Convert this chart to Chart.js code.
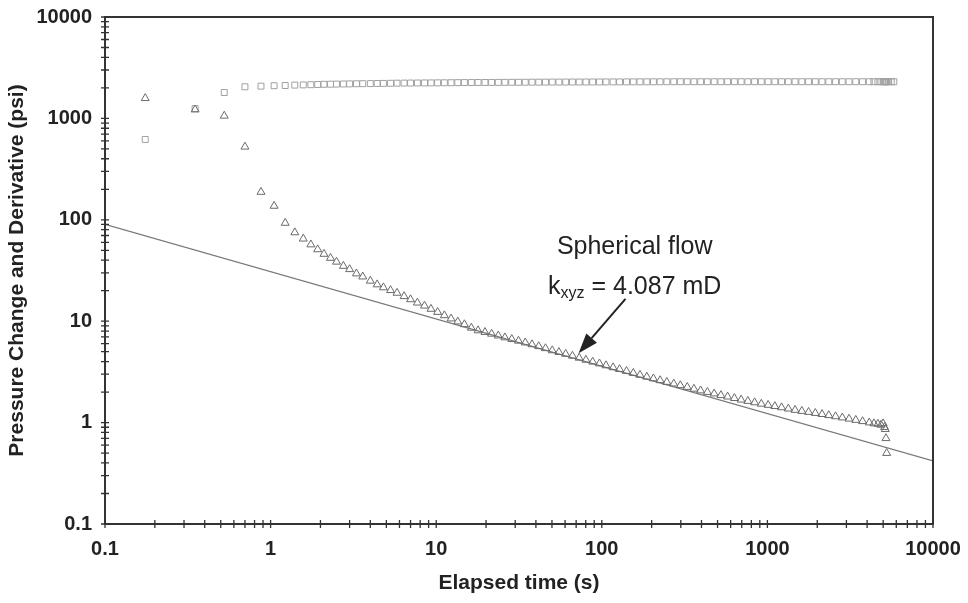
<!DOCTYPE html>
<html>
<head>
<meta charset="utf-8">
<title>Pressure change and derivative</title>
<script src="https://cdn.jsdelivr.net/npm/chart.js@4.4.1/dist/chart.umd.min.js"></script>
<style>
  html, body { margin: 0; padding: 0; background: #fff; }
  canvas { display: block; }
</style>
</head>
<body>
<canvas id="chart" width="968" height="603"></canvas>
<script>
// elapsed time (s), shared by both series
const elapsed = [
  0.175, 0.35, 0.525, 0.7, 0.875, 1.05, 1.225, 1.4, 1.575, 1.75,
  1.925, 2.1, 2.3, 2.5, 2.75, 3.0, 3.3, 3.6, 4.0, 4.4,
  4.8, 5.3, 5.8, 6.4, 7.0, 7.7, 8.5, 9.3, 10.2, 11.2,
  12.3, 13.5, 14.8, 16.3, 17.9, 19.7, 21.6, 23.7, 26, 28.6,
  31.4, 34.5, 37.9, 41.6, 45.7, 50.2, 55.1, 60.5, 66.5, 73,
  80.2, 88.1, 96.8, 106, 117, 128, 141, 155, 170, 187,
  205, 225, 247, 272, 298, 328, 360, 395, 434, 477,
  524, 575, 632, 694, 762, 837, 919, 1010, 1109, 1218,
  1338, 1469, 1614, 1772, 1947, 2138, 2348, 2579, 2833, 3111,
  3417, 3753, 4122, 4400, 4650, 4850, 5000, 5100, 5150, 5200,
  5250, 5400, 5600, 5800
];

// pressure change (psi) - squares
const pressureChange = [
  620, 1250, 1800, 2050, 2080, 2100, 2110, 2130, 2140, 2150,
  2160, 2170, 2175, 2180, 2185, 2190, 2195, 2200, 2205, 2210,
  2215, 2220, 2225, 2230, 2232, 2235, 2238, 2240, 2243, 2246,
  2249, 2252, 2255, 2258, 2260, 2262, 2264, 2266, 2268, 2270,
  2272, 2274, 2276, 2278, 2280, 2281, 2282, 2283, 2284, 2285,
  2286, 2287, 2288, 2289, 2290, 2291, 2292, 2293, 2294, 2295,
  2296, 2297, 2298, 2299, 2300, 2300, 2300, 2300, 2300, 2300,
  2300, 2300, 2300, 2300, 2300, 2300, 2300, 2300, 2300, 2300,
  2300, 2300, 2300, 2300, 2300, 2300, 2300, 2300, 2300, 2300,
  2300, 2300, 2300, 2300, 2300, 2300, 2300, 2300, 2300, 2300,
  2300, 2300, 2300, 2300
];

// pressure derivative (psi) - triangles
const derivative = [
  1580, 1220, 1060, 525, 188, 137, 93, 75, 65, 57,
  51, 46, 42, 38.5, 35, 32.5, 29.5, 27.5, 25, 23,
  21.5, 20.2, 19, 17.6, 16.4, 15.2, 14.2, 13.2, 12.3, 11.4,
  10.6, 9.9, 9.3, 8.6, 8.1, 7.8, 7.5, 7.2, 6.9, 6.65,
  6.4, 6.15, 5.9, 5.65, 5.4, 5.15, 4.95, 4.75, 4.55, 4.35,
  4.15, 3.98, 3.82, 3.66, 3.5, 3.36, 3.22, 3.08, 2.95, 2.83,
  2.72, 2.61, 2.51, 2.42, 2.33, 2.24, 2.15, 2.07, 2.0, 1.93,
  1.86, 1.8, 1.74, 1.68, 1.63, 1.58, 1.53, 1.49, 1.45, 1.41,
  1.37, 1.33, 1.3, 1.27, 1.24, 1.21, 1.18, 1.15, 1.12, 1.09,
  1.06, 1.03, 1.0, 0.98, 0.97, 0.95, 0.98, 0.9, 0.86, 0.7,
  0.5, null, null, null
];

// spherical flow fit line
const fitTime = [0.1, 10000];
const fitValue = [90, 0.42];

const xTickValues = [0.1, 1, 10, 100, 1000, 10000];
const xTickLabels = ['0.1', '1', '10', '100', '1000', '10000'];
const yTickValues = [0.1, 1, 10, 100, 1000, 10000];
const yTickLabels = ['0.1', '1', '10', '100', '1000', '10000'];

// annotation anchor points (data space)
const noteAt = { x: 158, line1: 53.7, line2: 21.8 };
const arrowTail = { x: 139, y: 16.6 };
const arrowTip = { x: 72.4, y: 4.82 };

const toPoints = (xs, ys) => xs.map((t, i) => ({ x: t, y: ys[i] }));

const frameAndNote = {
  id: 'frameAndNote',
  afterDraw(chart) {
    const { ctx, chartArea: a, scales: { x, y } } = chart;
    ctx.save();

    // plot frame
    ctx.strokeStyle = '#333';
    ctx.lineWidth = 2;
    ctx.strokeRect(a.left, a.top, a.right - a.left, a.bottom - a.top);

    // log tick marks crossing the axes
    ctx.lineWidth = 1.3;
    ctx.beginPath();
    for (let e = -1; e < 4; e++) {
      for (let m = 1; m <= 10; m++) {
        const v = m * Math.pow(10, e);
        const px = x.getPixelForValue(v);
        ctx.moveTo(px, a.bottom - 4);
        ctx.lineTo(px, a.bottom + 4);
        const py = y.getPixelForValue(v);
        ctx.moveTo(a.left - 4, py);
        ctx.lineTo(a.left + 4, py);
      }
    }
    ctx.stroke();

    // annotation text
    const cx = x.getPixelForValue(noteAt.x);
    const y1 = y.getPixelForValue(noteAt.line1);
    const y2 = y.getPixelForValue(noteAt.line2);
    ctx.fillStyle = '#222';
    ctx.textBaseline = 'middle';
    ctx.textAlign = 'center';
    ctx.font = '25px "Liberation Sans", Arial, sans-serif';
    ctx.fillText('Spherical flow', cx, y1);

    const big = '25px "Liberation Sans", Arial, sans-serif';
    const small = '16px "Liberation Sans", Arial, sans-serif';
    ctx.textAlign = 'left';
    ctx.font = big;
    const wK = ctx.measureText('k').width;
    const wRest = ctx.measureText(' = 4.087 mD').width;
    ctx.font = small;
    const wSub = ctx.measureText('xyz').width;
    let sx = cx - (wK + wSub + wRest) / 2;
    ctx.font = big;
    ctx.fillText('k', sx, y2);
    sx += wK;
    ctx.font = small;
    ctx.fillText('xyz', sx, y2 + 7);
    sx += wSub;
    ctx.font = big;
    ctx.fillText(' = 4.087 mD', sx, y2);

    // arrow
    const tx = x.getPixelForValue(arrowTail.x), ty = y.getPixelForValue(arrowTail.y);
    const hx = x.getPixelForValue(arrowTip.x), hy = y.getPixelForValue(arrowTip.y);
    const ang = Math.atan2(hy - ty, hx - tx);
    const headLen = 20, headHalf = 7;
    const bx = hx - headLen * Math.cos(ang), by = hy - headLen * Math.sin(ang);
    ctx.strokeStyle = '#222';
    ctx.lineWidth = 2;
    ctx.beginPath();
    ctx.moveTo(tx, ty);
    ctx.lineTo(bx, by);
    ctx.stroke();
    ctx.beginPath();
    ctx.moveTo(hx, hy);
    ctx.lineTo(bx + headHalf * Math.sin(ang), by - headHalf * Math.cos(ang));
    ctx.lineTo(bx - headHalf * Math.sin(ang), by + headHalf * Math.cos(ang));
    ctx.closePath();
    ctx.fill();

    ctx.restore();
  }
};

const tickFont = { family: '"Liberation Sans", Arial, sans-serif', size: 20, weight: 'bold' };
const titleFont = { family: '"Liberation Sans", Arial, sans-serif', size: 21, weight: 'bold' };

new Chart(document.getElementById('chart').getContext('2d'), {
  type: 'scatter',
  data: {
    datasets: [
      {
        label: 'Spherical flow',
        type: 'line',
        data: toPoints(fitTime, fitValue),
        borderColor: '#7a7a7a',
        borderWidth: 1.3,
        pointRadius: 0,
        fill: false,
        order: 3
      },
      {
        label: 'Pressure change',
        data: toPoints(elapsed, pressureChange),
        pointStyle: 'rect',
        pointRadius: 4.2,
        borderColor: '#a0a0a0',
        backgroundColor: 'rgba(0,0,0,0)',
        borderWidth: 1,
        order: 2
      },
      {
        label: 'Derivative',
        data: toPoints(elapsed, derivative),
        pointStyle: 'triangle',
        pointRadius: 4.6,
        borderColor: '#6a6a6a',
        backgroundColor: 'rgba(0,0,0,0)',
        borderWidth: 1,
        order: 1
      }
    ]
  },
  options: {
    responsive: false,
    animation: false,
    layout: { padding: { left: 0, right: 35, top: 10, bottom: 0 } },
    plugins: {
      legend: { display: false },
      tooltip: { enabled: false }
    },
    scales: {
      x: {
        type: 'logarithmic',
        position: 'bottom',
        min: 0.1,
        max: 10000,
        grid: { display: false },
        border: { display: false },
        afterBuildTicks: (s) => { s.ticks = xTickValues.map((v) => ({ value: v })); },
        afterFit: (s) => { s.height = 79; },
        ticks: {
          autoSkip: false,
          maxRotation: 0,
          padding: 5,
          color: '#222',
          font: tickFont,
          callback: (v, i) => xTickLabels[i]
        },
        title: {
          display: true,
          text: 'Elapsed time (s)',
          color: '#222',
          font: titleFont,
          padding: { top: 0, bottom: 7 }
        }
      },
      y: {
        type: 'logarithmic',
        position: 'left',
        min: 0.1,
        max: 10000,
        grid: { display: false },
        border: { display: false },
        afterBuildTicks: (s) => { s.ticks = yTickValues.map((v) => ({ value: v })); },
        afterFit: (s) => { s.width = 105; },
        ticks: {
          autoSkip: false,
          padding: 5,
          color: '#222',
          font: tickFont,
          callback: (v, i) => yTickLabels[i]
        },
        title: {
          display: true,
          text: 'Pressure Change and Derivative (psi)',
          color: '#222',
          font: titleFont,
          padding: { top: 5, bottom: 0 }
        }
      }
    }
  },
  plugins: [frameAndNote]
});
</script>
</body>
</html>
